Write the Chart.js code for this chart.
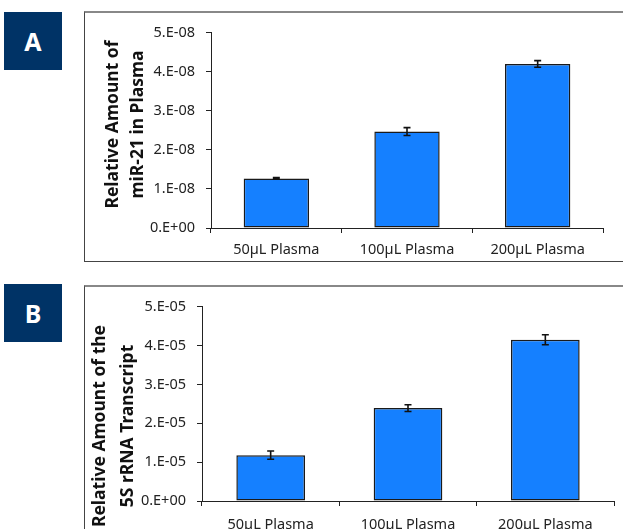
<!DOCTYPE html>
<html lang="en">
<head>
  <meta charset="UTF-8" />
  <title>Relative amount in plasma</title>
  <script src="https://cdn.jsdelivr.net/npm/chart.js"></script>
  <style>
    body {
      margin: 0;
      width: 623px;
      height: 529px;
      overflow: hidden;
      background: #fff;
      font-family: 'Noto Sans', sans-serif;
      position: relative;
    }
    .tag {
      position: absolute;
      left: 4px;
      width: 58px;
      height: 58px;
      background: #003366;
      color: #fff;
      font-weight: bold;
      font-size: 25px;
      line-height: 58px;
      text-align: center;
    }
    .panel {
      position: absolute;
      left: 84px;
      width: 600px;
      border-left: 1px solid #444;
      border-top: 2px solid #888;
      border-bottom: 1px solid #444;
    }
    .panel canvas { display: block; }
  </style>
</head>
<body>
  <div class="tag" style="top:12px">A</div>
  <div class="panel" style="top:11px;height:248px">
    <div style="width:538px;height:248px"><canvas id="chartA"></canvas></div>
  </div>

  <div class="tag" style="top:284px">B</div>
  <div class="panel" style="top:285px;height:260px">
    <div style="width:538px;height:260px"><canvas id="chartB"></canvas></div>
  </div>

  <script>
    const categories = ['50µL Plasma', '100µL Plasma', '200µL Plasma'];

    // panel A: miR-21
    const mirValues = [1.27e-8, 2.47e-8, 4.20e-8];
    const mirErrors = [0.02e-8, 0.10e-8, 0.085e-8];
    const mirTitle = ['Relative Amount of', 'miR-21 in Plasma'];
    const mirMax = 5e-8;

    // panel B: 5S rRNA
    const rnaValues = [1.18e-5, 2.39e-5, 4.15e-5];
    const rnaErrors = [0.107e-5, 0.085e-5, 0.13e-5];
    const rnaTitle = ['Relative Amount of the', '5S rRNA Transcript'];
    const rnaMax = 5e-5;

    // 5e-8 -> "5.E-08", 0 -> "0.E+00"
    function sciLabel(v) {
      const parts = Number(v).toExponential(0).split('e');
      const exp = parseInt(parts[1], 10);
      const sign = exp < 0 ? '-' : '+';
      return parts[0] + '.E' + sign + String(Math.abs(exp)).padStart(2, '0');
    }

    const errorBars = {
      id: 'errorBars',
      afterDatasetsDraw(chart, args, opts) {
        const ctx = chart.ctx;
        const meta = chart.getDatasetMeta(0);
        const y = chart.scales.y;
        ctx.save();
        ctx.strokeStyle = '#111';
        ctx.lineWidth = 1.6;
        meta.data.forEach((bar, i) => {
          const v = chart.data.datasets[0].data[i];
          const e = opts.errors[i];
          const top = y.getPixelForValue(v + e);
          const bot = y.getPixelForValue(v - e);
          ctx.beginPath();
          ctx.moveTo(bar.x, top); ctx.lineTo(bar.x, bot);
          ctx.moveTo(bar.x - 3.5, top); ctx.lineTo(bar.x + 3.5, top);
          ctx.moveTo(bar.x - 3.5, bot); ctx.lineTo(bar.x + 3.5, bot);
          ctx.stroke();
        });
        ctx.restore();
      }
    };

    // two-line rotated axis title, placed freely
    const sideTitle = {
      id: 'sideTitle',
      afterDraw(chart, args, opts) {
        const ctx = chart.ctx;
        ctx.save();
        ctx.fillStyle = '#111';
        ctx.font = 'bold ' + opts.size + 'px "Noto Sans", sans-serif';
        ctx.textAlign = 'center';
        ctx.textBaseline = 'middle';
        opts.lines.forEach((line, i) => {
          ctx.save();
          ctx.translate(opts.x + i * opts.gap, opts.y);
          ctx.rotate(-Math.PI / 2);
          ctx.fillText(line, 0, 0);
          ctx.restore();
        });
        ctx.restore();
      }
    };

    function makeChart(id, values, errors, max, title, layout) {
      return new Chart(document.getElementById(id), {
        type: 'bar',
        data: {
          labels: categories,
          datasets: [{
            data: values,
            backgroundColor: '#1580ff',
            borderColor: '#1a1a1a',
            borderWidth: 1.5,
            borderSkipped: false,
            barPercentage: 0.5,
            categoryPercentage: 1
          }]
        },
        options: {
          responsive: true,
          maintainAspectRatio: false,
          animation: false,
          layout: { padding: { left: 0, top: layout.top, right: layout.right, bottom: 0 } },
          plugins: {
            legend: { display: false },
            tooltip: { enabled: false },
            errorBars: { errors: errors },
            sideTitle: title
          },
          scales: {
            x: {
              grid: { offset: true, drawOnChartArea: false, color: '#222', tickLength: 5 },
              border: { color: '#222', width: 1 },
              ticks: { color: '#222', padding: layout.xPad, font: { family: 'Noto Sans', size: 14.5 } },
              afterFit(axis) { axis.height = layout.xHeight; }
            },
            y: {
              min: 0,
              max: max,
              grid: { drawOnChartArea: false, color: '#222', tickLength: 5 },
              border: { color: '#222', width: 1 },
              ticks: {
                stepSize: max / 5,
                color: '#222',
                padding: 11,
                font: { family: 'Noto Sans', size: 14.5 },
                callback: v => sciLabel(v)
              },
              afterFit(axis) { axis.width = layout.yWidth; }
            }
          }
        },
        plugins: [errorBars, sideTitle]
      });
    }

    makeChart('chartA', mirValues, mirErrors, mirMax,
      { lines: mirTitle, size: 17.5, x: 28.5, y: 111.5, gap: 25 },
      { top: 19, right: 20, yWidth: 126, xHeight: 33, xPad: 8 });

    makeChart('chartB', rnaValues, rnaErrors, rnaMax,
      { lines: rnaTitle, size: 17.5, x: 15.5, y: 139, gap: 28 },
      { top: 19, right: 9, yWidth: 117, xHeight: 46, xPad: 10 });
  </script>
</body>
</html>
